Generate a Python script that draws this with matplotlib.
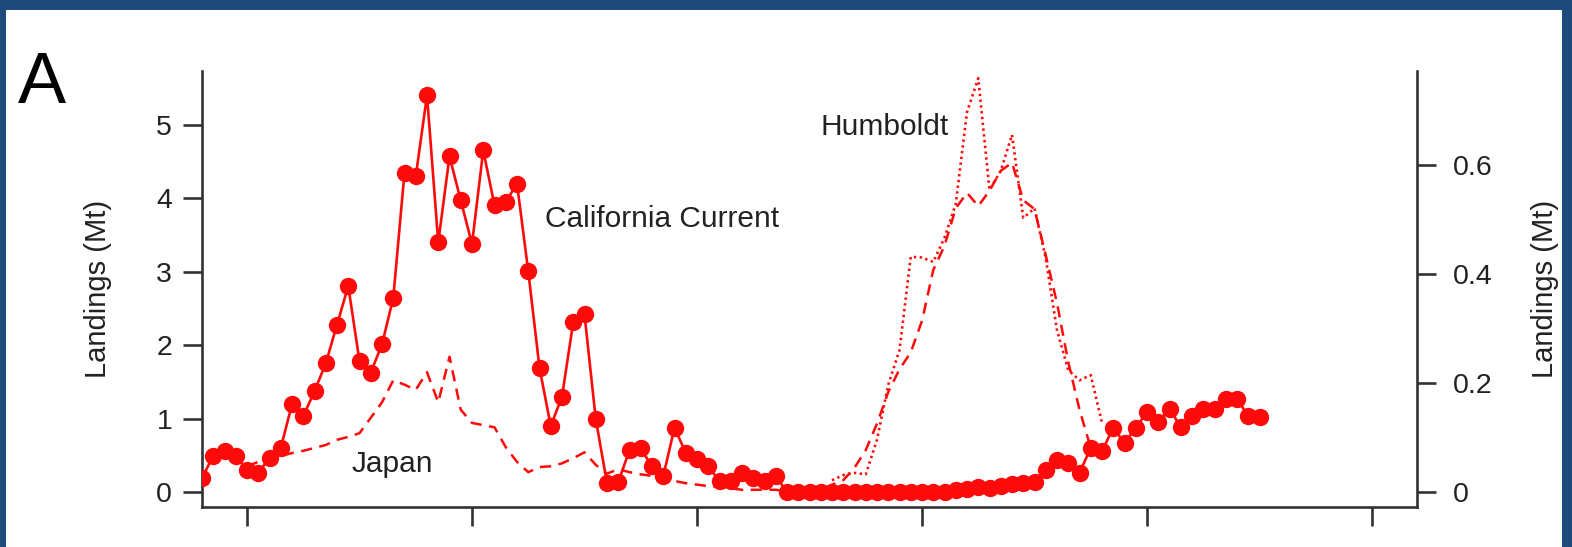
import matplotlib

matplotlib.use("Agg")
import matplotlib.pyplot as plt
from matplotlib.patches import Rectangle

plt.rcParams["font.family"] = ["Liberation Sans", "DejaVu Sans"]

# California Current sardine landings (Mt, right axis), 1916-2010
cal_years = list(range(1916, 2011))
cal_landings = [
    0.026, 0.066, 0.075, 0.066, 0.041, 0.035, 0.063, 0.081, 0.161, 0.139,
    0.185, 0.236, 0.307, 0.378, 0.240, 0.219, 0.271, 0.356, 0.586, 0.579,
    0.728, 0.458, 0.616, 0.535, 0.455, 0.627, 0.526, 0.532, 0.566, 0.405,
    0.228, 0.121, 0.175, 0.312, 0.326, 0.134, 0.016, 0.018, 0.077, 0.080,
    0.047, 0.029, 0.118, 0.072, 0.060, 0.047, 0.020, 0.020, 0.035, 0.026,
    0.020, 0.029, 0.000, 0.000, 0.000, 0.000, 0.000, 0.000, 0.000, 0.000,
    0.000, 0.000, 0.000, 0.000, 0.000, 0.000, 0.000, 0.003, 0.005, 0.010,
    0.008, 0.011, 0.014, 0.017, 0.019, 0.041, 0.059, 0.053, 0.035, 0.081,
    0.075, 0.118, 0.090, 0.118, 0.146, 0.128, 0.153, 0.119, 0.140, 0.153,
    0.153, 0.171, 0.170, 0.140, 0.137,
]

# Japan sardine landings (Mt, left axis), 1920-1995
japan_years = list(range(1920, 1996))
japan_landings = [
    0.35, 0.41, 0.45, 0.49, 0.53, 0.56, 0.60, 0.64, 0.71, 0.75,
    0.80, 1.01, 1.22, 1.52, 1.46, 1.39, 1.63, 1.22, 1.84, 1.12,
    0.94, 0.91, 0.88, 0.61, 0.41, 0.27, 0.34, 0.35, 0.39, 0.46,
    0.54, 0.37, 0.25, 0.31, 0.27, 0.24, 0.22, 0.18, 0.15, 0.12,
    0.10, 0.08, 0.07, 0.05, 0.03, 0.03, 0.03, 0.03, 0.01, 0.02,
    0.02, 0.03, 0.10, 0.16, 0.33, 0.57, 0.93, 1.36, 1.67, 1.90,
    2.33, 3.02, 3.35, 3.86, 4.07, 3.89, 4.10, 4.37, 4.48, 3.97,
    3.85, 3.22, 2.57, 1.77, 1.12, 0.60,
]

# Humboldt sardine landings (Mt, left axis), 1972-1996
humboldt_years = list(range(1972, 1997))
humboldt_landings = [
    0.16, 0.23, 0.26, 0.24, 0.71, 1.46, 1.93, 3.20, 3.19, 3.13,
    3.46, 3.92, 5.17, 5.63, 4.11, 4.37, 4.86, 3.73, 3.86, 3.18,
    2.20, 1.66, 1.52, 1.59, 0.94,
]

left_ticks = [0, 1, 2, 3, 4, 5]
right_ticks = [0, 0.2, 0.4, 0.6]
x_ticks = [1920, 1940, 1960, 1980, 2000, 2020]

RED = "#ff0a0a"
INK = "#222222"
SPINE = "#333333"

fig = plt.figure(figsize=(15.72, 5.47), dpi=100)
fig.patch.set_facecolor("#1f4a7c")
fig.patches.append(Rectangle((6 / 1572, 0), 1 - 16 / 1572, 1 - 10 / 547,
                             transform=fig.transFigure, facecolor="white",
                             edgecolor="none", zorder=-5))

ax = fig.add_axes([202 / 1572, 40 / 547, 1215 / 1572, 436 / 547])
ax.set_facecolor("none")
ax2 = ax.twinx()
ax2.set_facecolor("none")

ax.plot(japan_years, japan_landings, color=RED, lw=1.8, dashes=(4.5, 3))
ax.plot(humboldt_years, humboldt_landings, color=RED, lw=1.9, dashes=(0.9, 1.3))
ax2.plot(cal_years, cal_landings, color=RED, lw=1.9, marker="o", ms=12.5,
         markeredgewidth=0)

ax.set_xlim(1916, 2024)
ax.set_ylim(-0.204, 5.728)
ax2.set_ylim(-0.0275, 0.7725)

ax.set_xticks(x_ticks)
ax.set_xticklabels([])
ax.set_yticks(left_ticks)
ax.set_yticklabels([str(t) for t in left_ticks])
ax2.set_yticks(right_ticks)
ax2.set_yticklabels(["0", "0.2", "0.4", "0.6"])

for a in (ax, ax2):
    a.spines["top"].set_visible(False)
    for side in ("left", "right", "bottom"):
        a.spines[side].set_color(SPINE)
        a.spines[side].set_linewidth(1.9)
    a.tick_params(length=13.5, width=1.9, color=SPINE, labelsize=20.5,
                  labelcolor=INK)
ax.tick_params(axis="y", pad=8)
ax2.tick_params(axis="y", pad=12)
ax.spines["right"].set_visible(False)
ax2.spines["left"].set_visible(False)
ax2.spines["bottom"].set_visible(False)

ax.set_ylabel("Landings (Mt)", fontsize=21, color=INK)
ax.yaxis.set_label_coords(-0.074, 0.5)
ax2.set_ylabel("Landings (Mt)", fontsize=21, color=INK, rotation=90)
ax2.yaxis.set_label_coords(1.094, 0.5)

ax.text(1946.5, 3.61, "California Current", fontsize=21.5, color=INK,
        ha="left", va="baseline")
ax.text(1971.0, 4.86, "Humboldt", fontsize=21.5, color=INK,
        ha="left", va="baseline")
ax.text(1929.3, 0.276, "Japan", fontsize=21.5, color=INK,
        ha="left", va="baseline")

fig.text(18 / 1572, 1 - 103 / 547, "A", fontsize=52, color="black",
         ha="left", va="baseline")

fig.savefig("out.png", dpi=100, facecolor=fig.get_facecolor())
